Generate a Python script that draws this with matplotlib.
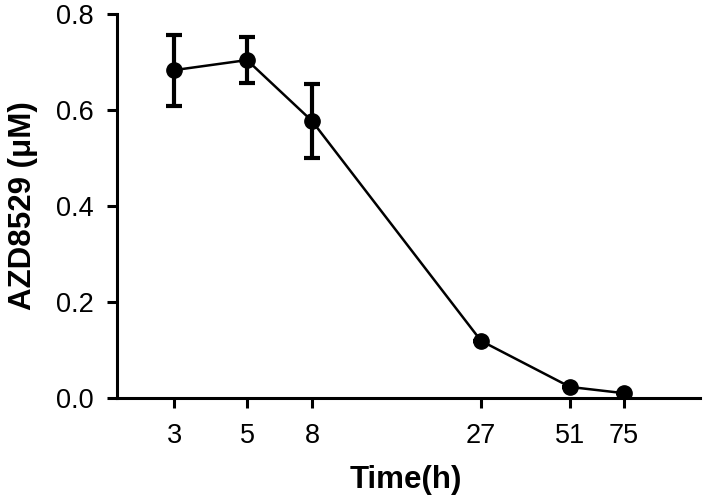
import matplotlib
matplotlib.use("Agg")
import matplotlib.pyplot as plt

plt.rcParams['font.family'] = ['Liberation Sans', 'DejaVu Sans']

# data
time_labels = ['3', '5', '8', '27', '51', '75']
conc = [0.683, 0.704, 0.577, 0.119, 0.023, 0.010]
conc_err = [0.074, 0.047, 0.077, 0.0, 0.0, 0.0]

# horizontal spacing of the time points (axis is not linear in time)
x_pos = [57, 130, 195, 364, 453, 507]

fig = plt.figure(figsize=(7.05, 5.01), dpi=100)
ax = fig.add_axes([0.166, 0.2056, 0.827, 0.7665])

ax.errorbar(x_pos, conc, yerr=conc_err, color='black', lw=1.8,
            marker='o', markersize=11, elinewidth=3, capsize=6, capthick=3)

ax.set_xlim(0, 583)
ax.set_ylim(0, 0.8)
ax.set_xticks(x_pos)
ax.set_xticklabels(time_labels)
ax.set_yticks([0.0, 0.2, 0.4, 0.6, 0.8])
ax.set_yticklabels(['0.0', '0.2', '0.4', '0.6', '0.8'])

for s in ['top', 'right']:
    ax.spines[s].set_visible(False)
for s in ['left', 'bottom']:
    ax.spines[s].set_linewidth(2.2)

ax.tick_params(axis='both', width=2.2, length=7, labelsize=19.5)
ax.tick_params(axis='x', pad=11)
ax.tick_params(axis='y', pad=10)

ax.set_xlabel('Time(h)', fontsize=22.5, fontweight='bold')
ax.set_ylabel('AZD8529 (μM)', fontsize=22.5, fontweight='bold')
ax.xaxis.set_label_coords(0.496, -0.175)
ax.yaxis.set_label_coords(-0.135, 0.5)

fig.savefig('out.png', dpi=100)
